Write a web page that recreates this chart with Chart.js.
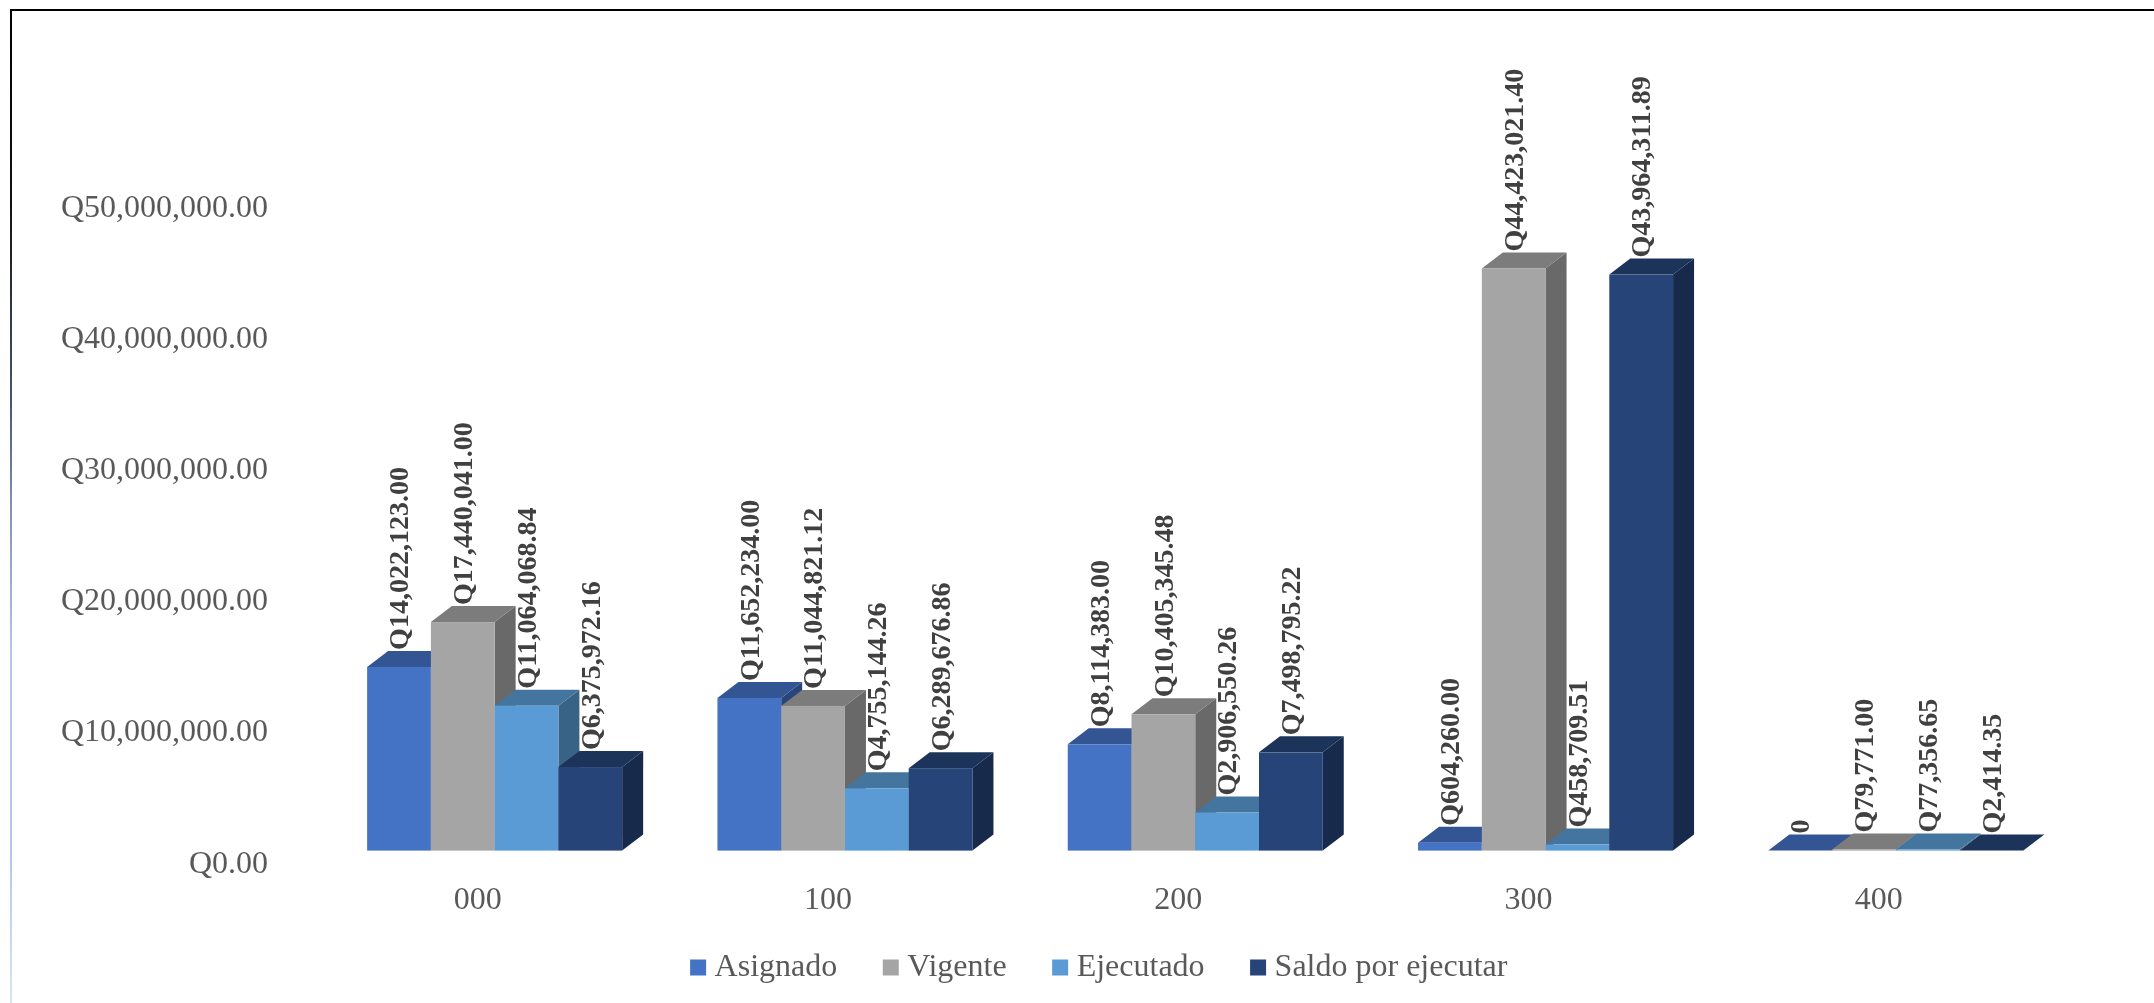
<!DOCTYPE html>
<html><head><meta charset="utf-8">
<style>html,body{margin:0;padding:0;background:#fff}canvas{display:block}</style>
<script src="https://cdn.jsdelivr.net/npm/chart.js@4"></script></head>
<body><canvas id="c" width="2154" height="1003"></canvas>
<script>
const categories = ['000','100','200','300','400'];
const asignado = [14022123.00, 11652234.00, 8114383.00, 604260.00, 0];
const vigente = [17440041.00, 11044821.12, 10405345.48, 44423021.40, 79771.00];
const ejecutado = [11064068.84, 4755144.26, 2906550.26, 458709.51, 77356.65];
const saldo = [6375972.16, 6289676.86, 7498795.22, 43964311.89, 2414.35];
const seriesNames = ['Asignado','Vigente','Ejecutado','Saldo por ejecutar'];
const frontColors = ['#4472C4','#A5A5A5','#5B9BD5','#264478'];
const topColors = ['#335593','#7C7C7C','#44759F','#1C335A'];
const sideColors = ['#2A4678','#696969','#386385','#172A4C'];
const DX = 21, DY = 16;
const money = v => 'Q' + v.toLocaleString('en-US',{minimumFractionDigits:2,maximumFractionDigits:2});

const frame = {id:'frame',
 afterLayout(chart){ const L=chart.legend; L.left+=67; L.right+=67; L.top-=28; L.bottom-=28; },
 beforeDraw(chart){
  const c = chart.ctx; c.save();
  c.fillStyle='#fff'; c.fillRect(0,0,2154,1003);
  const g = c.createLinearGradient(0,0,0,1003);
  g.addColorStop(0,'#000'); g.addColorStop(.2,'#111');
  g.addColorStop(.4,'#4a5570'); g.addColorStop(.5,'#7f8fb0');
  g.addColorStop(.65,'#b4c7e7'); g.addColorStop(.85,'#b4c7e7'); g.addColorStop(1,'#dae3f3');
  c.fillStyle=g; c.fillRect(10,9,2,994);
  c.fillStyle='#000'; c.fillRect(10,9,2144,2);
  c.restore();
}};
const bars3d = {id:'bars3d',
  beforeDatasetDraw(){ return false; },
  beforeDatasetsDraw(chart){
    const c = chart.ctx;
    chart.data.datasets.forEach((ds,di)=>{
      chart.getDatasetMeta(di).data.forEach(el=>{
        const l=el.x-el.width/2, r=el.x+el.width/2, t=el.y, b=el.base;
        c.fillStyle=sideColors[di];
        c.beginPath();c.moveTo(r,t);c.lineTo(r+DX,t-DY);c.lineTo(r+DX,b-DY);c.lineTo(r,b);c.closePath();c.fill();
        c.fillStyle=topColors[di];
        c.beginPath();c.moveTo(l,t);c.lineTo(r,t);c.lineTo(r+DX,t-DY);c.lineTo(l+DX,t-DY);c.closePath();c.fill();
        c.fillStyle=frontColors[di];
        c.fillRect(l,t,r-l,b-t);
      });
    });
  },
  afterDatasetsDraw(chart){
    const c = chart.ctx;
    c.save();
    c.font='bold 28px "Liberation Serif"'; c.fillStyle='#404040'; c.textAlign='left'; c.textBaseline='middle';
    chart.data.datasets.forEach((ds,di)=>{
      chart.getDatasetMeta(di).data.forEach((el,i)=>{
        const v=ds.data[i];
        c.save();
        c.translate(el.x+2, el.y-DY-1);
        c.rotate(-Math.PI/2);
        c.fillText(v===0?'0':money(v),0,0);
        c.restore();
      });
    });
    c.restore();
  }
};
const serif = {family:'"Liberation Serif"', size:32};
new Chart(document.getElementById('c'),{
  type:'bar',
  data:{labels:categories,datasets:[asignado,vigente,ejecutado,saldo].map((d,i)=>({
    label:seriesNames[i],data:d,backgroundColor:frontColors[i],borderWidth:0,
    categoryPercentage:0.728,barPercentage:1}))},
  options:{
    responsive:false,animation:false,devicePixelRatio:1,
    layout:{padding:{top:195.5,left:0,right:83,bottom:-18.6}},
    scales:{
      x:{grid:{display:false},border:{display:false},
        afterFit(s){s.height=76;},
        ticks:{font:serif,color:'#595959',padding:23,labelOffset:-17,maxRotation:0,autoSkip:false}},
      y:{min:0,max:50000000,grid:{display:false},border:{display:false},
        afterFit(s){s.width=319.5;},
        ticks:{font:serif,color:'#595959',stepSize:10000000,padding:43.5,labelOffset:13.5,autoSkip:false,callback:v=>money(v)}}
    },
    plugins:{
      tooltip:{enabled:false},
      legend:{position:'bottom',labels:{font:serif,color:'#595959',padding:53,boxWidth:1,boxHeight:1,
        generateLabels:ch=>ch.data.datasets.map((d,i)=>({text:d.label,fillStyle:frontColors[i],strokeStyle:frontColors[i],lineWidth:15,datasetIndex:i,fontColor:'#595959',hidden:false}))}}
    }
  },
  plugins:[frame,bars3d]
});
</script></body></html>
